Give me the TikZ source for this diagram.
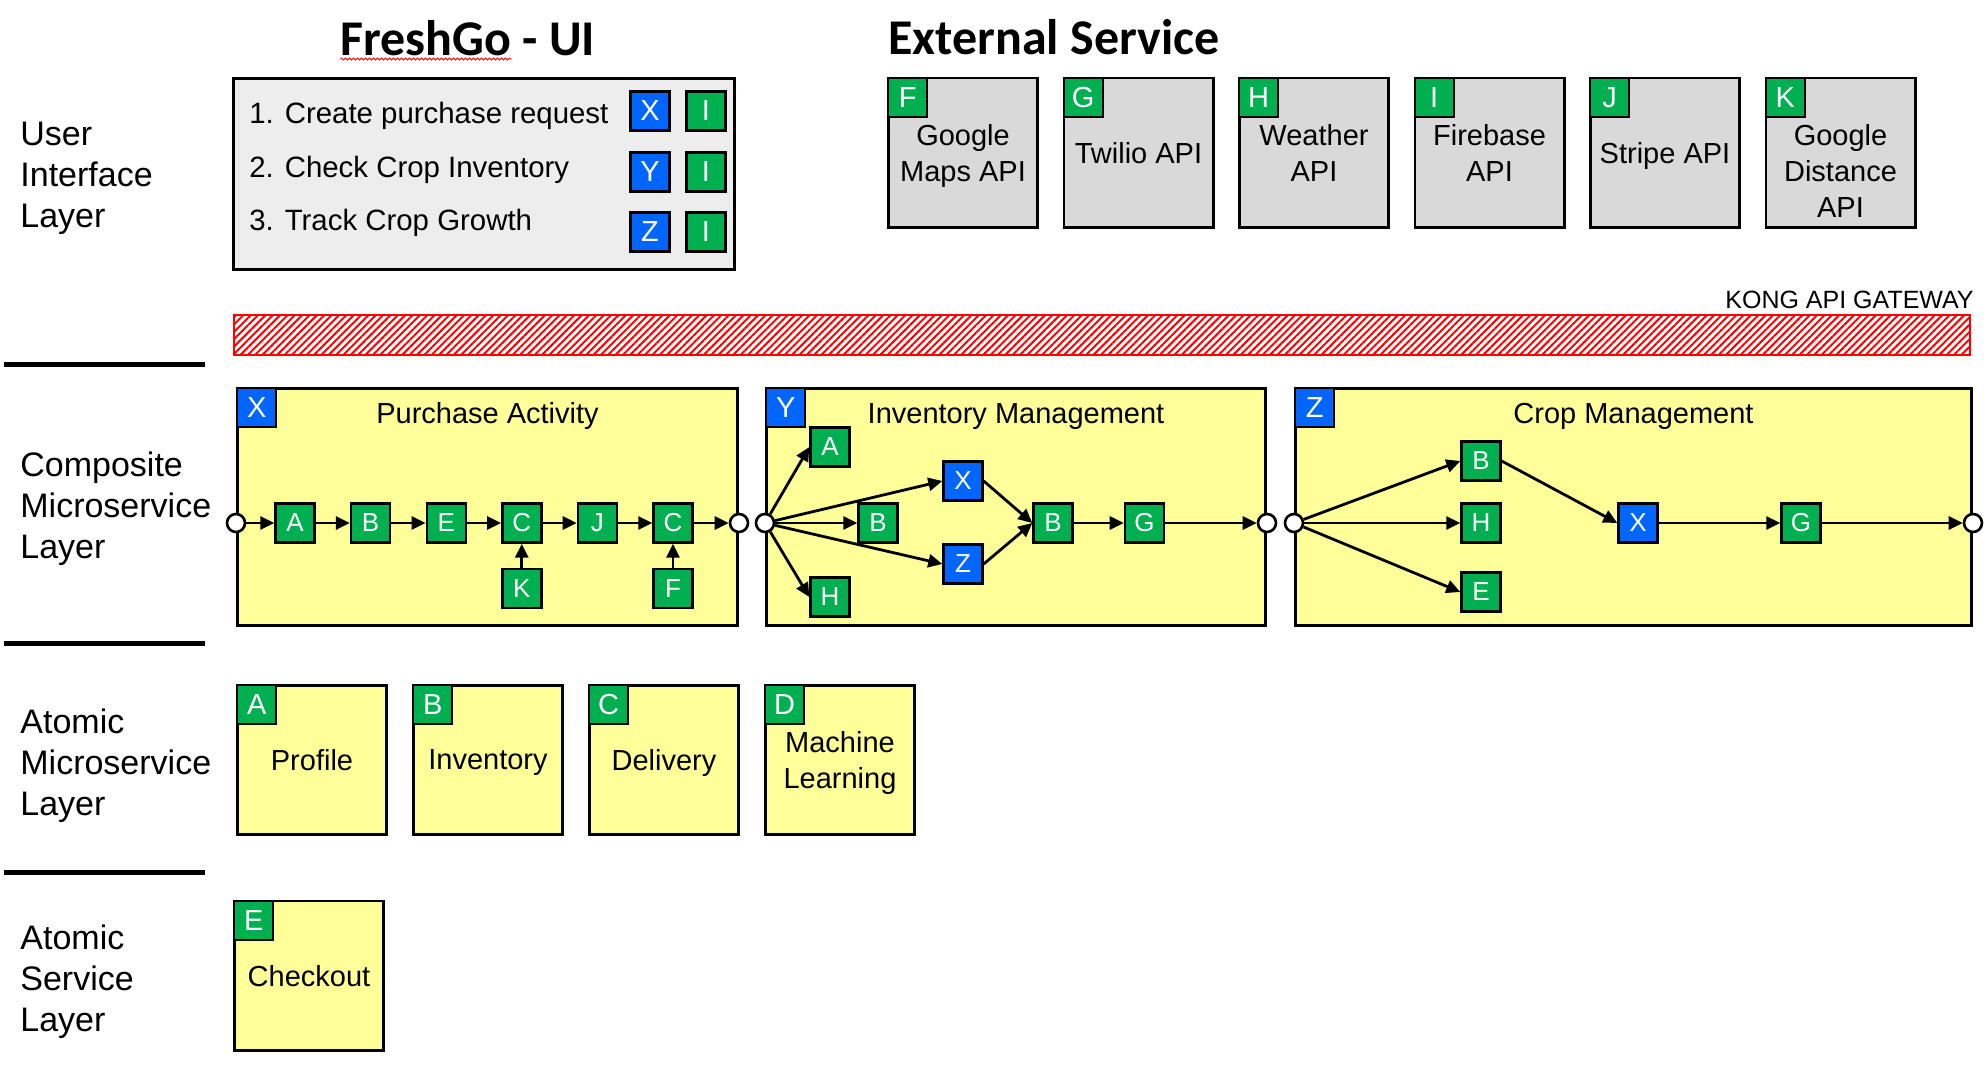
\documentclass[tikz,border=0pt]{standalone}
\usepackage{fontspec}
\setmainfont{Liberation Sans}
\newfontfamily\headfont{Carlito}
\usetikzlibrary{arrows.meta,positioning,patterns.meta,decorations.pathmorphing}

\definecolor{msgreen}{HTML}{00B050}
\definecolor{msblue}{HTML}{0066FF}
\definecolor{noteyellow}{HTML}{FFFF99}
\definecolor{uigray}{HTML}{EDEDED}
\definecolor{extgray}{HTML}{D9D9D9}

\tikzset{
    %Define standard arrow tip
    >={Triangle[length=7pt,width=6.5pt]},
    %Define style for letter squares
    gsq/.style={
      rectangle,
      draw=black, line width=1.2pt,
      fill=msgreen,
      text=white,
      minimum size=19.5pt,
      inner sep=0pt,
      font=\fontsize{13}{13}\selectfont},
    bsq/.style={gsq, fill=msblue},
    %Define style for corner tags
    gtag/.style={gsq, font=\fontsize{14.5}{14.5}\selectfont},
    btag/.style={gtag, fill=msblue},
    %Define style for service boxes
    svc/.style={
      rectangle,
      draw=black, line width=1.3pt,
      minimum width=74.7pt,
      minimum height=74.7pt,
      align=center,
      inner sep=0pt,
      text depth=0pt,
      font=\fontsize{14.5}{18}\selectfont},
    atom/.style={svc, fill=noteyellow},
    ext/.style={svc, fill=extgray},
    svctext/.style={align=center, inner sep=0pt, font=\fontsize{14.5}{18}\selectfont},
    comp/.style={
      rectangle,
      draw=black, line width=1.3pt,
      fill=noteyellow,
      minimum height=118.7pt},
    ctitle/.style={anchor=base, inner sep=0pt, font=\fontsize{14.5}{14.5}\selectfont},
    head/.style={anchor=base, inner sep=0pt, font=\headfont\bfseries\fontsize{25}{25}\selectfont},
    row/.style={anchor=base west, inner sep=0pt, font=\fontsize{14.7}{14.7}\selectfont},
    layer/.style={anchor=north west, align=left, inner sep=0pt, font=\fontsize{17}{20.5}\selectfont},
    layerline/.style={line width=2.5pt},
    %Define style for in/out ports
    port/.style={circle, draw=black, line width=1.3pt, fill=white, minimum size=9pt, inner sep=0pt},
    gateway/.style={
      rectangle,
      draw=red, line width=1pt,
      pattern={Lines[angle=45,distance=2.6pt,line width=1pt]},
      pattern color=red,
      minimum width=868pt,
      minimum height=20pt},
    % Define arrow style
    arr/.style={
      ->,
      draw=black,
      line width=1.4pt}
}

\begin{document}
\begin{tikzpicture}[x=0.5pt, y=-0.5pt]
    \useasboundingbox (0,0) rectangle (1987,1066);

    % layer names on the left
    \node[layer] (lui) at (20,122) {User\\Interface\\Layer};
    \node[layer] (lcomp) at (20,451) {Composite\\Microservice\\Layer};
    \node[layer] (latom) at (20,708) {Atomic\\Microservice\\Layer};
    \node[layer] (lsvc) at (20,924) {Atomic\\Service\\Layer};
    \draw[layerline] (4,364) -- (205,364);
    \draw[layerline] (4,643) -- (205,643);
    \draw[layerline] (4,872) -- (205,872);

    % user interface
    \node[head] (uititle) at (468,55) {FreshGo - UI};
    \draw[red, line width=0.4pt, decorate,
      decoration={snake, amplitude=0.5pt, segment length=2pt}]
      ([yshift=-2pt]uititle.base west) -- ++(86pt,0);
    \node[rectangle, draw=black, line width=1.3pt, fill=uigray,
      minimum width=250.7pt, minimum height=95.7pt] (uibox) at (484,174) {};
    \node[row] (req1) at (249,123) {1. Create purchase request};
    \node[row] (req2) at (249,177) {2. Check Crop Inventory};
    \node[row] (req3) at (249,230) {3. Track Crop Growth};
    \node[btag] (uX) at (650,111) {X};
    \node[gtag] (uI1) at (706,111) {I};
    \node[btag] (uY) at (650,172) {Y};
    \node[gtag] (uI2) at (706,172) {I};
    \node[btag] (uZ) at (650,232) {Z};
    \node[gtag] (uI3) at (706,232) {I};

    % external services
    \node[head] (exttitle) at (1054,54) {External Service};
    \node[ext] (eMaps) at (963,152.5) {Google\\Maps API};
    \node[ext, right=11.75pt of eMaps] (eTwilio) {Twilio API};
    \node[ext, right=11.75pt of eTwilio] (eWeather) {Weather\\API};
    \node[ext, right=11.75pt of eWeather] (eFirebase) {Firebase\\API};
    \node[ext, right=11.75pt of eFirebase] (eStripe) {Stripe API};
    \node[ext, right=11.75pt of eStripe] (eDistance) {};
    \node[svctext] (eDistanceTxt) at ([yshift=-9pt]eDistance.center) {Google\\Distance\\API};
    \node[gtag, anchor=north west] (tF) at (eMaps.north west) {F};
    \node[gtag, anchor=north west] (tG) at (eTwilio.north west) {G};
    \node[gtag, anchor=north west] (tH) at (eWeather.north west) {H};
    \node[gtag, anchor=north west] (tI) at (eFirebase.north west) {I};
    \node[gtag, anchor=north west] (tJ) at (eStripe.north west) {J};
    \node[gtag, anchor=north west] (tK) at (eDistance.north west) {K};

    % api gateway
    \node[gateway] (kong) at (1102,335) {};
    \node[anchor=base east, inner sep=0pt, font=\fontsize{12.5}{12.5}\selectfont]
      (kongtxt) at (1974,308) {KONG API GATEWAY};

    % composite microservices
    \coordinate (flow) at (0,523);
    \node[comp, minimum width=250.2pt] (boxX) at (487.5,507) {};
    \node[comp, minimum width=249.7pt, right=13pt of boxX] (boxY) {};
    \node[comp, minimum width=338.2pt, right=13.5pt of boxY] (boxZ) {};
    \node[btag, anchor=north west] (tX) at (boxX.north west) {X};
    \node[btag, anchor=north west] (tY) at (boxY.north west) {Y};
    \node[btag, anchor=north west] (tZ) at (boxZ.north west) {Z};
    \node[ctitle] (titleX) at ([yshift=-18pt]boxX.north) {Purchase Activity};
    \node[ctitle] (titleY) at ([yshift=-18pt]boxY.north) {Inventory Management};
    \node[ctitle] (titleZ) at ([yshift=-18pt]boxZ.north) {Crop Management};

    % purchase activity
    \node[port] (xin) at (boxX.west |- flow) {};
    \node[gsq] (xA) at (295,523) {A} edge[arr, <-] (xin);
    \node[gsq, right=17.1pt of xA] (xB) {B} edge[arr, <-] (xA);
    \node[gsq, right=17.1pt of xB] (xE) {E} edge[arr, <-] (xB);
    \node[gsq, right=17.1pt of xE] (xC) {C} edge[arr, <-] (xE);
    \node[gsq, below=12pt of xC] (xK) {K} edge[arr] (xC);
    \node[gsq, right=17.1pt of xC] (xJ) {J} edge[arr, <-] (xC);
    \node[gsq, right=17.1pt of xJ] (xC2) {C} edge[arr, <-] (xJ);
    \node[gsq, below=12pt of xC2] (xF) {F} edge[arr] (xC2);
    \node[port] (xout) at (boxX.east |- flow) {} edge[arr, <-] (xC2);

    % inventory management
    \node[port] (yin) at (boxY.west |- flow) {};
    \node[gsq] (yA) at (830,447) {A};
    \node[gsq] (yB) at (878,523) {B};
    \node[bsq] (yX) at (963,481) {X};
    \node[bsq] (yZ) at (963,564) {Z};
    \node[gsq] (yH) at (830,597) {H};
    \node[gsq] (yB2) at (1053,523) {B};
    \node[gsq, right=25pt of yB2] (yG) {G} edge[arr, <-] (yB2);
    \node[port] (yout) at (boxY.east |- flow) {} edge[arr, <-] (yG);
    \draw[arr] (yin) -- (yA.west);
    \draw[arr] (yin) -- (yB.west);
    \draw[arr] (yin) -- (yX.west);
    \draw[arr] (yin) -- (yZ.west);
    \draw[arr] (yin) -- (yH.west);
    \draw[arr] (yX.east) -- (yB2.west);
    \draw[arr] (yZ.east) -- (yB2.west);

    % crop management
    \node[port] (zin) at (boxZ.west |- flow) {};
    \node[gsq] (zB) at (1481,461) {B};
    \node[gsq] (zH) at (1481,523) {H};
    \node[gsq] (zE) at (1481,592) {E};
    \node[bsq] (zX) at (1638,523) {X};
    \node[gsq] (zG) at (1801,523) {G} edge[arr, <-] (zX);
    \node[port] (zout) at (boxZ.east |- flow) {} edge[arr, <-] (zG);
    \draw[arr] (zin) -- (zB.west);
    \draw[arr] (zin) -- (zH.west);
    \draw[arr] (zin) -- (zE.west);
    \draw[arr] (zB.east) -- (zX.west);

    % atomic microservices
    \node[atom] (mProfile) at (312,760) {Profile};
    \node[atom, right=12pt of mProfile] (mInventory) {Inventory};
    \node[atom, right=12pt of mInventory] (mDelivery) {Delivery};
    \node[atom, right=12pt of mDelivery] (mLearning) {Machine\\Learning};
    \node[gtag, anchor=north west] (tA) at (mProfile.north west) {A};
    \node[gtag, anchor=north west] (tB) at (mInventory.north west) {B};
    \node[gtag, anchor=north west] (tC) at (mDelivery.north west) {C};
    \node[gtag, anchor=north west] (tD) at (mLearning.north west) {D};

    % atomic services
    \node[atom] (sCheckout) at (309,975.5) {Checkout};
    \node[gtag, anchor=north west] (tE) at (sCheckout.north west) {E};
\end{tikzpicture}
\end{document}
